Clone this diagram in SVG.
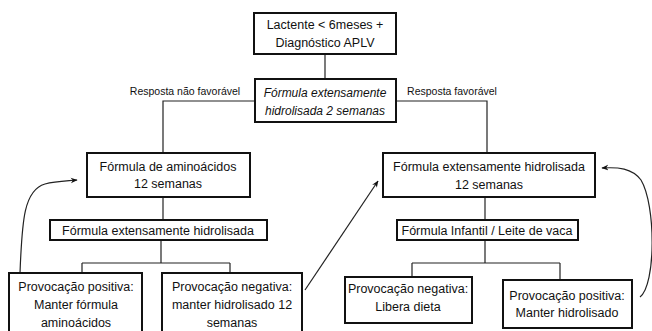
<svg xmlns="http://www.w3.org/2000/svg" width="652" height="331" viewBox="0 0 652 331">
<style>
.box{fill:#fff;stroke:#111;stroke-width:2}
.ln{fill:none;stroke:#222;stroke-width:1.2}
text{font-family:"Liberation Sans",Arial,sans-serif;font-size:12.5px;fill:#111;text-anchor:middle}
.it{font-style:italic;font-size:12px}
.lbl{font-size:10.5px}
</style>
<defs>
<marker id="ah" viewBox="0 0 10 10" refX="9" refY="5" markerWidth="7" markerHeight="7" orient="auto" markerUnits="userSpaceOnUse">
<path d="M0,1 L10,5 L0,9 L3,5 Z" fill="#111"/>
</marker>
</defs>
<g id="connectors">
<path class="ln" d="M325,54 V79"/>
<path class="ln" d="M255,101 H163 V153"/>
<path class="ln" d="M396,101 H487 V153"/>
<path class="ln" d="M163,197 V220"/>
<path class="ln" d="M161,240 V263 M82,263 H230 M82,263 V273 M230,263 V273"/>
<path class="ln" d="M485,197 V220"/>
<path class="ln" d="M485,240 V263 M412,263 H560 M412,263 V277 M560,263 V280"/>
<path class="ln" marker-end="url(#ah)" d="M20,273 C22,220 24,190 45,184 C55,181 65,181 77,180"/>
<path class="ln" marker-end="url(#ah)" d="M305,290 L378,181"/>
<path class="ln" marker-end="url(#ah)" d="M640,297 C656,285 656,205 641,180 C632,168 618,167 602,168"/>
<text class="lbl" x="185" y="95">Resposta não favorável</text>
<text class="lbl" x="452" y="95">Resposta favorável</text>
</g>
<g id="n1"><rect class="box" x="254" y="13" width="142" height="41"/>
<text x="325" y="29">Lactente &lt; 6meses +</text><text x="325" y="47">Diagnóstico APLV</text></g>
<g id="n2"><rect class="box" x="255" y="79" width="141" height="43"/>
<text class="it" x="325" y="97">Fórmula extensamente</text><text class="it" x="325" y="115">hidrolisada  2 semanas</text></g>
<g id="n3"><rect class="box" x="87" y="153" width="163" height="44"/>
<text x="168" y="171">Fórmula de aminoácidos</text><text x="168" y="188">12 semanas</text></g>
<g id="n4"><rect class="box" x="50" y="220" width="217" height="20"/>
<text x="158" y="235">Fórmula extensamente hidrolisada</text></g>
<g id="n5"><rect class="box" x="9" y="273" width="133" height="62"/>
<text x="76" y="291">Provocação positiva:</text><text x="76" y="309">Manter fórmula</text><text x="76" y="327">aminoácidos</text></g>
<g id="n6"><rect class="box" x="162" y="273" width="140" height="62"/>
<text x="232" y="291">Provocação negativa:</text><text x="232" y="309">manter hidrolisado 12</text><text x="232" y="327">semanas</text></g>
<g id="n7"><rect class="box" x="383" y="153" width="212" height="44"/>
<text x="489" y="171">Fórmula extensamente hidrolisada</text><text x="489" y="189">12 semanas</text></g>
<g id="n8"><rect class="box" x="397" y="220" width="181" height="20"/>
<text x="487" y="235">Fórmula Infantil / Leite de vaca</text></g>
<g id="n9"><rect class="box" x="345" y="277" width="127" height="46"/>
<text x="408" y="293">Provocação negativa:</text><text x="408" y="311">Libera dieta</text></g>
<g id="n10"><rect class="box" x="503" y="280" width="129" height="48"/>
<text x="567" y="300">Provocação positiva:</text><text x="567" y="317">Manter hidrolisado</text></g>
</svg>
